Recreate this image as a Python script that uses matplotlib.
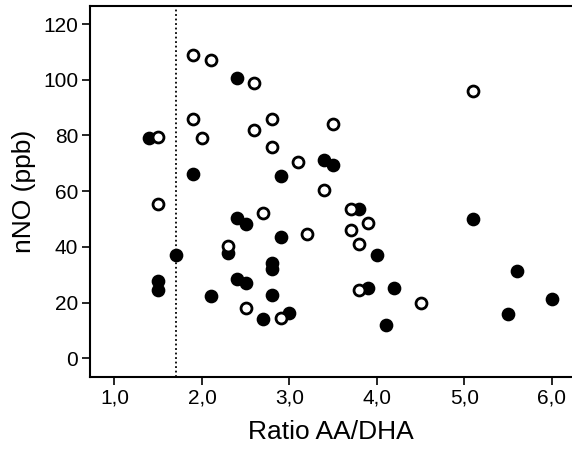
import matplotlib
matplotlib.use("Agg")
import matplotlib.pyplot as plt

plt.rcParams['font.family'] = ['Liberation Sans', 'DejaVu Sans']

# open circles
open_x = [1.9, 2.1, 2.6, 1.9, 2.8, 2.6, 1.5, 2.0, 2.8, 3.1, 3.4, 3.5, 5.1,
          1.5, 2.7, 3.2, 2.3, 2.5, 2.9, 3.7, 3.9, 3.7, 3.8, 3.8, 4.5]
open_y = [109, 107, 99, 86, 86, 82, 79.5, 79, 76, 70.5, 60.5, 84, 96,
          55.5, 52, 44.7, 40.5, 18, 14.6, 53.5, 48.5, 46.2, 41.2, 24.4, 19.7]

# filled circles
fill_x = [2.4, 1.4, 3.4, 3.5, 1.9, 2.9, 2.4, 2.5, 2.9, 2.3, 1.7, 2.8, 2.8,
          1.5, 1.5, 2.4, 2.5, 2.1, 2.8, 2.7, 3.0, 3.8, 4.0, 5.1, 5.6, 3.9,
          4.2, 6.0, 5.5, 4.1]
fill_y = [100.5, 79, 71.2, 69.5, 66.2, 65.6, 50.5, 48.4, 43.6, 37.8, 37, 34.4, 32.2,
          27.8, 24.6, 28.3, 27, 22.4, 22.6, 14, 16.4, 53.5, 37, 50, 31.5, 25.2,
          25.3, 21.4, 15.9, 12.1]

cutoff = 1.7

fig = plt.figure(figsize=(5.72, 4.53), dpi=100)
ax = fig.add_axes([90/572, 1 - 376.7/453, 1 - 90/572, (376.7 - 5.7)/453])

ax.axvline(cutoff, color='black', linestyle=(0, (1, 1.5)), linewidth=1.3, zorder=1)
ax.scatter(fill_x, fill_y, s=75, c='black', edgecolors='black', linewidths=1.2, zorder=3)
ax.scatter(open_x, open_y, s=62, facecolors='white', edgecolors='black', linewidths=2.0, zorder=3)

ax.set_xlim(0.72, 6.23)
ax.set_ylim(-6.6, 126.6)
ax.set_xticks([1, 2, 3, 4, 5, 6])
ax.set_xticklabels(['1,0', '2,0', '3,0', '4,0', '5,0', '6,0'])
ax.set_yticks([0, 20, 40, 60, 80, 100, 120])

ax.spines['right'].set_visible(False)
for s in ['left', 'bottom', 'top']:
    ax.spines[s].set_linewidth(1.5)
ax.tick_params(direction='out', length=6, width=1.2, labelsize=15, pad=2.5)

ax.set_xlabel('Ratio AA/DHA', fontsize=19, labelpad=9)
ax.set_ylabel('nNO (ppb)', fontsize=19, labelpad=5)

fig.savefig('out.png', dpi=100)
